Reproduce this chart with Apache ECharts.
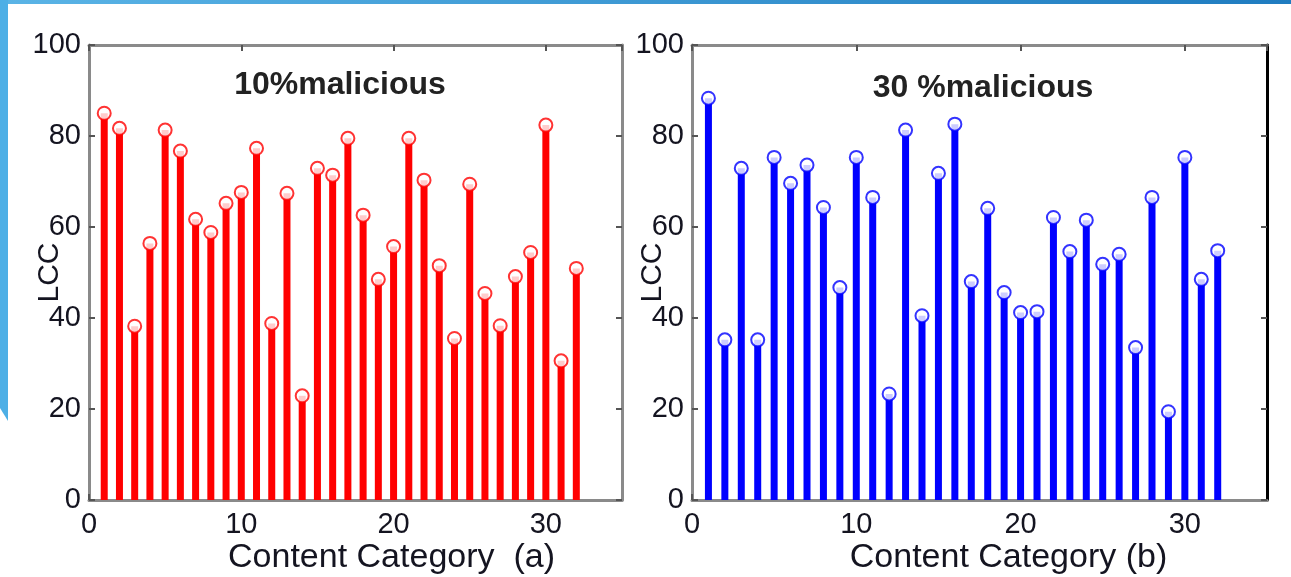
<!DOCTYPE html>
<html>
<head>
<meta charset="utf-8">
<script src="https://cdn.jsdelivr.net/npm/echarts@6/dist/echarts.min.js"></script>
<style>
html,body{margin:0;padding:0;background:#fff;}
#c{width:1291px;height:577px;}
</style>
</head>
<body>
<div id="c"></div>
<script>
const categories = [1,2,3,4,5,6,7,8,9,10,11,12,13,14,15,16,17,18,19,20,21,22,23,24,25,26,27,28,29,30,31,32];
const lcc10 = [85,81.7,38.2,56.4,81.3,76.7,61.7,58.8,65.2,67.6,77.3,38.8,67.4,22.9,72.9,71.4,79.5,62.6,48.5,55.7,79.5,70.3,51.5,35.5,69.4,45.4,38.3,49.1,54.4,82.4,30.6,50.9];
const lcc30 = [88.3,35.2,72.9,35.2,75.3,69.6,73.6,64.3,46.7,75.3,66.5,23.3,81.3,40.5,71.8,82.6,48,64.1,45.6,41.2,41.4,62.1,54.6,61.5,51.8,54,33.5,66.5,19.4,75.3,48.5,54.8];
const xTicks = [0,10,20,30];
const yTicks = [0,20,40,60,80,100];
const titles = ['10%malicious','30 %malicious'];
const xNames = ['Content Category  (a)','Content Category (b)'];
const yName = 'LCC';

const chart = echarts.init(document.getElementById('c'), null, {renderer:'canvas'});
const font = 'Liberation Sans, Arial, sans-serif';
const txt = '#141420';
const grids = [
  {left:89, top:45, width:533, height:455, outerBoundsMode:'none', containLabel:false},
  {left:692, top:45, width:575, height:455, outerBoundsMode:'none', containLabel:false}
];
const namePad = [[0,0,0,72],[0,0,0,58]];
function xAx(i, pos){
  const main = pos === 'bottom';
  return {
    type:'value', gridIndex:i, position:pos, min:0, max:35, interval:10,
    name: main ? xNames[i] : '', nameLocation:'middle', nameGap:41, nameMoveOverlap:false,
    nameTextStyle:{fontFamily:font, fontSize:34, color:txt, verticalAlign:'top', padding:namePad[i]},
    axisLine:{show:true, onZero:false, lineStyle:{color: '#8a8a8a', width:3}},
    axisTick:{show:true, inside:true, length:6, lineStyle:{color:'#555', width:2}},
    axisLabel:{show:main, fontFamily:font, fontSize:29, color:txt, margin:10, showMaxLabel:false,
      formatter: v => xTicks.includes(v) ? String(v) : ''},
    splitLine:{show:false}
  };
}
function yAx(i, pos){
  const main = pos === 'left';
  return {
    type:'value', gridIndex:i, position:pos, min:0, max:100, interval:20,
    name: main ? yName : '', nameLocation:'middle', nameGap:24, nameRotate:90, nameMoveOverlap:false,
    nameTextStyle:{fontFamily:font, fontSize:30, color:txt},
    axisLine:{show:true, onZero:false, lineStyle:{color: (!main && i===1) ? '#000' : '#8a8a8a', width:3}},
    axisTick:{show:true, inside:true, length:6, lineStyle:{color:'#555', width:2}},
    axisLabel:{show:main, fontFamily:font, fontSize:29, color:txt, margin:8,
      formatter: v => yTicks.includes(v) ? String(v) : ''},
    splitLine:{show:false}
  };
}
const colors = ['#ff0000','#0000ff'];
const datasets = [lcc10, lcc30];
const series = [];
datasets.forEach((d, i) => {
  const pts = categories.map((c, k) => [c, d[k]]);
  series.push({
    type:'bar', xAxisIndex:i*2, yAxisIndex:i*2, data:pts, barWidth:7,
    itemStyle:{color:colors[i]}, silent:true, z:2
  });
  series.push({
    type:'scatter', xAxisIndex:i*2, yAxisIndex:i*2, data:pts, symbol:'emptyCircle', symbolSize:13,
    itemStyle:{color:colors[i], borderColor:colors[i], borderWidth:4}, silent:true, z:3
  });
});
chart.setOption({
  animation:false,
  backgroundColor:'#ffffff',
  grid:grids,
  title:[
    {text:titles[0], left:335, top:64, textAlign:'center', textStyle:{fontFamily:font, fontSize:32, fontWeight:'bold', color:'#222'}},
    {text:titles[1], left:978, top:67, textAlign:'center', textStyle:{fontFamily:font, fontSize:32, fontWeight:'bold', color:'#222'}}
  ],
  xAxis:[xAx(0,'bottom'), xAx(0,'top'), xAx(1,'bottom'), xAx(1,'top')],
  yAxis:[yAx(0,'left'), yAx(0,'right'), yAx(1,'left'), yAx(1,'right')],
  series:series,
  graphic:[
    {type:'rect', shape:{x:0, y:0, width:1291, height:4}, style:{fill:new echarts.graphic.LinearGradient(0,0,1,0,[{offset:0,color:'#5ab4e6'},{offset:1,color:'#1f7cc0'}])}, z:10},
    {type:'polygon', shape:{points:[[0,0],[8,0],[8,421],[0,408]]}, style:{fill:'#4dafe6'}, z:10}
  ]
});
</script>
</body>
</html>
